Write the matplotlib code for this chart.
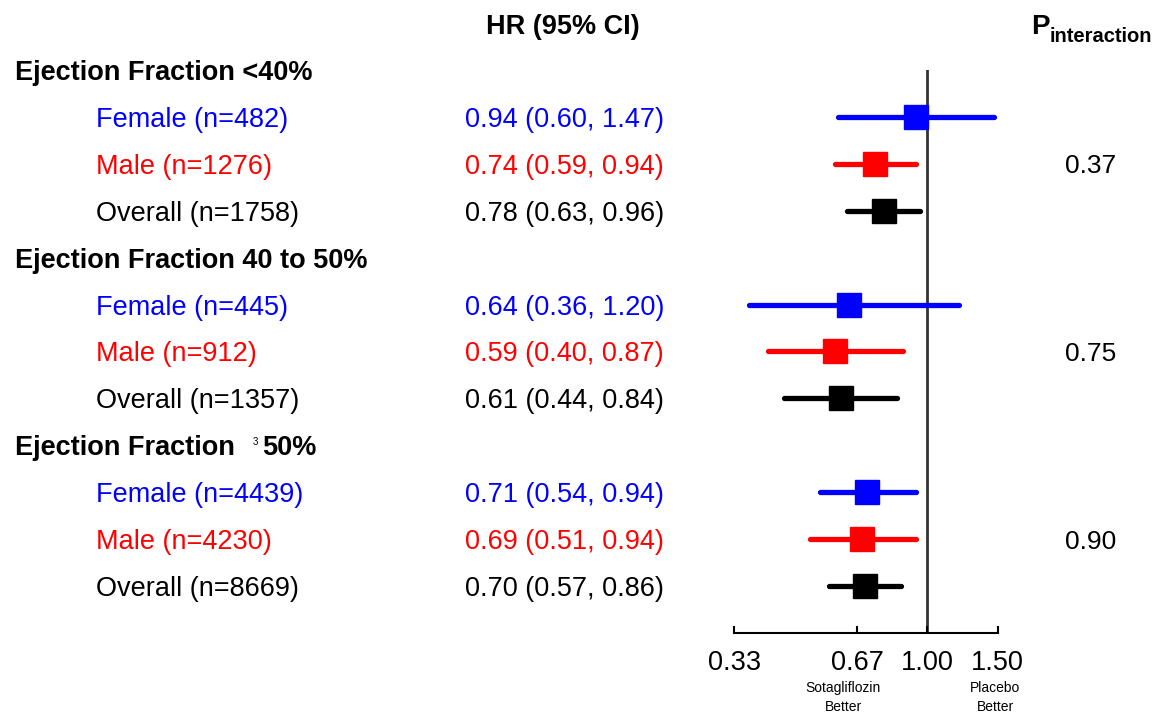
import matplotlib.pyplot as plt
import matplotlib.transforms as mtransforms

# Data
groups = ['Ejection Fraction <40%', 'Ejection Fraction 40 to 50%', 'Ejection Fraction']
subgroups = ['Female (n=482)', 'Male (n=1276)', 'Overall (n=1758)',
             'Female (n=445)', 'Male (n=912)', 'Overall (n=1357)',
             'Female (n=4439)', 'Male (n=4230)', 'Overall (n=8669)']
hr = [0.94, 0.74, 0.78, 0.64, 0.59, 0.61, 0.71, 0.69, 0.70]
lo = [0.60, 0.59, 0.63, 0.36, 0.40, 0.44, 0.54, 0.51, 0.57]
hi = [1.47, 0.94, 0.96, 1.20, 0.87, 0.84, 0.94, 0.94, 0.86]
p_interaction = ['0.37', '0.75', '0.90']
ticks = [0.33, 0.67, 1.00, 1.50]
tick_labels = ['0.33', '0.67', '1.00', '1.50']
colors = ['#0000FF', '#FF0000', '#000000']

plt.rcParams['font.family'] = ['Liberation Sans', 'DejaVu Sans']

W, H = 1153, 715
fig = plt.figure(figsize=(W / 100, H / 100), dpi=100)
# axes spans pixel x 720..1010, y 70..633
ax = fig.add_axes([720 / W, (H - 633) / H, 290 / W, (633 - 70) / H])
ax.set_xscale('log')
ax.set_xlim(0.3043, 1.611)
ax.set_ylim(12, 0)

for s in ['top', 'right', 'left']:
    ax.spines[s].set_visible(False)
ax.spines['bottom'].set_bounds(0.33, 1.5)
ax.spines['bottom'].set_linewidth(1.5)
ax.set_yticks([])
ax.set_xticks(ticks)
ax.set_xticklabels(tick_labels, fontsize=19.5)
ax.xaxis.set_minor_locator(plt.NullLocator())
ax.tick_params(axis='x', direction='in', length=5, width=1.5, pad=12)

ax.plot([1, 1], [0, 12], color='#333333', lw=2, zorder=1)

# text transform: x in figure pixels, y in data
tr = mtransforms.blended_transform_factory(
    mtransforms.Affine2D().scale(1 / W, 1) + fig.transFigure, ax.transData)

fs = 19.5
va = 'center_baseline'
for g in range(3):
    yh = g * 4
    ax.text(15, yh, groups[g], transform=tr, fontsize=fs, fontweight='bold',
            va=va, ha='left', clip_on=False)
    if g == 2:
        ax.text(253, yh - 0.1, '3', transform=tr, fontsize=7, va=va,
                ha='left', clip_on=False)
        ax.text(262, yh, '50%', transform=tr, fontsize=fs, fontweight='bold',
                va=va, ha='left', clip_on=False)
    for k in range(3):
        i = g * 3 + k
        y = yh + 1 + k
        c = colors[k]
        ax.text(96, y, subgroups[i], transform=tr, fontsize=fs, color=c,
                va=va, ha='left', clip_on=False)
        ax.text(465, y, f'{hr[i]:.2f} ({lo[i]:.2f}, {hi[i]:.2f})', transform=tr,
                fontsize=fs, color=c, va=va, ha='left', clip_on=False)
        ax.plot([lo[i], hi[i]], [y, y], color=c, lw=3.8, solid_capstyle='round', zorder=2)
        ax.plot(hr[i], y, marker='s', color=c, markersize=17, zorder=3)
    ax.text(1065, yh + 2, p_interaction[g], transform=tr, fontsize=19,
            va=va, ha='left', clip_on=False)

fig.text(563 / W, 1 - 24 / H, 'HR (95% CI)', fontsize=fs, fontweight='bold',
         ha='center', va=va)
fig.text(1031 / W, 1 - 24 / H, 'P', fontsize=20, fontweight='bold',
         ha='left', va=va)
fig.text(1050 / W, 1 - 35 / H, 'interaction', fontsize=14.5, fontweight='bold',
         ha='left', va=va)

fig.text(843 / W, 1 - 688 / H, 'Sotagliflozin', fontsize=10, ha='center', va='center')
fig.text(843 / W, 1 - 707 / H, 'Better', fontsize=10, ha='center', va='center')
fig.text(995 / W, 1 - 688 / H, 'Placebo', fontsize=10, ha='center', va='center')
fig.text(995 / W, 1 - 707 / H, 'Better', fontsize=10, ha='center', va='center')

fig.savefig('out.png', dpi=100)
